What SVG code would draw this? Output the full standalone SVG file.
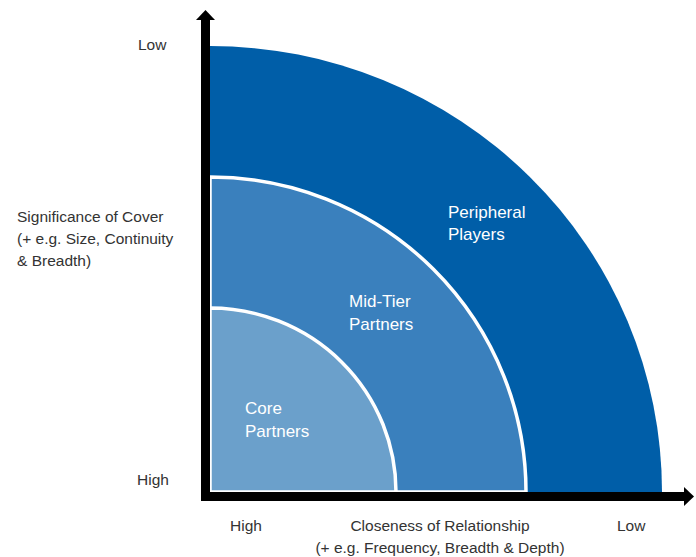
<svg xmlns="http://www.w3.org/2000/svg" width="696" height="557" viewBox="0 0 696 557">
<style>
text{font-family:"Liberation Sans",Arial,sans-serif;font-size:15.5px}
.lab{fill:#333333}
.in{fill:#ffffff;font-size:17px}
.arc{stroke:#ffffff;stroke-width:3.5}
</style>
<rect width="696" height="557" fill="#ffffff"/>
<g id="peripheral">
<path d="M210,492 L210,46 A452,446 0 0 1 662,492 Z" fill="#005EA8"/>
<text class="in" x="448" y="218">Peripheral</text>
<text class="in" x="448" y="240">Players</text>
</g>
<g id="midtier">
<path class="arc" d="M210,492 L210,177 A316,315 0 0 1 526,492 Z" fill="#3A80BD"/>
<text class="in" x="349" y="307">Mid-Tier</text>
<text class="in" x="349" y="330">Partners</text>
</g>
<g id="core">
<path class="arc" d="M210,492 L210,308 A186,184 0 0 1 396,492 Z" fill="#6BA0CB"/>
<text class="in" x="245" y="414">Core</text>
<text class="in" x="245" y="437">Partners</text>
</g>
<g id="connectors">
<rect x="201" y="19" width="9" height="482" fill="#000000"/>
<polygon points="205.5,10 215,20 196,20" fill="#000000"/>
<rect x="201" y="492" width="483" height="9" fill="#000000"/>
<polygon points="694,496.5 684,487 684,506" fill="#000000"/>
</g>
<g id="labels">
<text class="lab" x="138" y="50">Low</text>
<text class="lab" x="137" y="485">High</text>
<text class="lab" x="17" y="222">Significance of Cover</text>
<text class="lab" x="17" y="244">(+ e.g. Size, Continuity</text>
<text class="lab" x="17" y="266">&amp; Breadth)</text>
<text class="lab" x="230" y="531">High</text>
<text class="lab" x="617" y="531">Low</text>
<text class="lab" x="440" y="531" text-anchor="middle">Closeness of Relationship</text>
<text class="lab" x="440" y="553" text-anchor="middle">(+ e.g. Frequency, Breadth &amp; Depth)</text>
</g>
</svg>
